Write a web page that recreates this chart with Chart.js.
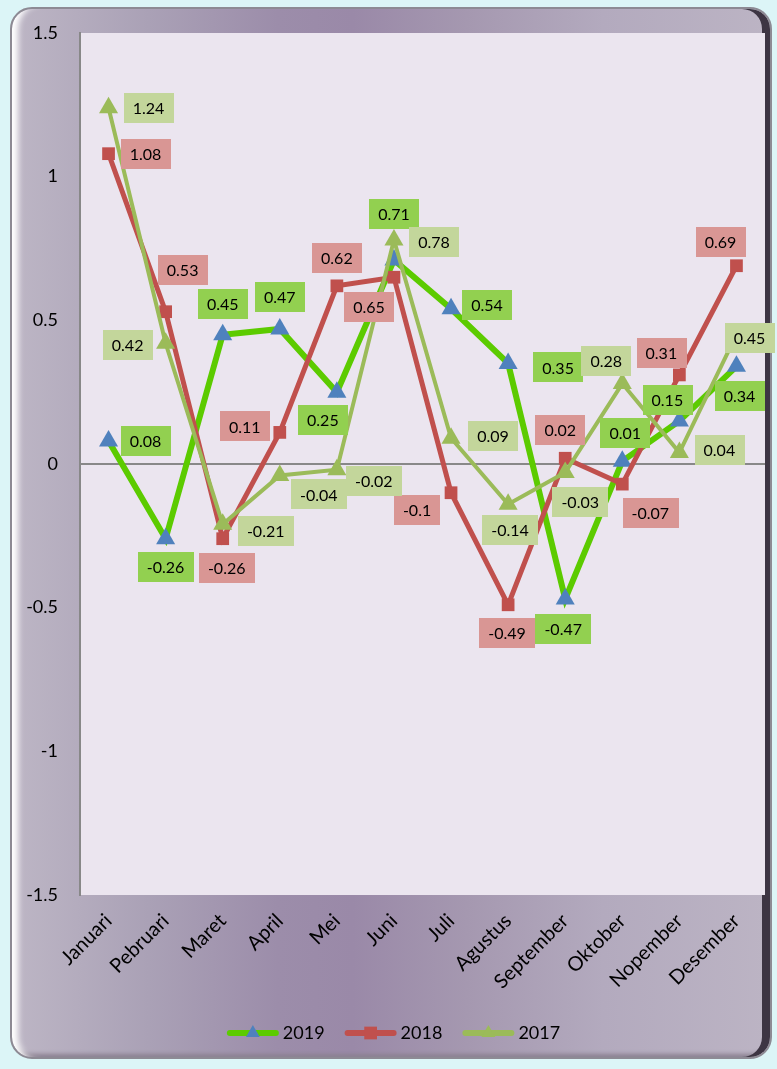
<!DOCTYPE html>
<html>
<head>
<meta charset="utf-8">
<script src="https://cdn.jsdelivr.net/npm/chart.js@4.4.1/dist/chart.umd.min.js"></script>
<style>
  html, body { margin: 0; padding: 0; }
  body { width: 777px; height: 1069px; background: #dcf5f7; position: relative; overflow: hidden; }
  .frame {
    position: absolute; left: 10px; top: 7px; width: 758px; height: 1048px;
    border: 2px solid #8d8a94; border-radius: 22px;
    background: linear-gradient(90deg, #bdb6c5 0%, #aaa1b6 18%, #9c8daa 35%, #9a89a8 45%, #a598b0 60%, #b3aabe 78%, #bcb4c4 100%);
    box-shadow: inset 12px 0 6px -6px #ffffff, inset -8px 0 0 #3d3543, inset 0 -6px 4px -3px #8a8090;
  }
  #wrap { position: absolute; left: 0; top: 0; width: 777px; height: 1069px; }
</style>
</head>
<body>
<div class="frame"></div>
<div id="wrap"><canvas id="chart" width="777" height="1069"></canvas></div>
<script>
const THEME = {
    plotBg: '#ebe5ef',
    axis: '#888888',
    text: '#000000',
    fontFamily: "Lato, 'Open Sans', sans-serif",
};

const months = ['Januari', 'Pebruari', 'Maret', 'April', 'Mei', 'Juni',
    'Juli', 'Agustus', 'September', 'Oktober', 'Nopember', 'Desember'];

const y2019 = [0.08, -0.26, 0.45, 0.47, 0.25, 0.71, 0.54, 0.35, -0.47, 0.01, 0.15, 0.34];
const y2018 = [1.08, 0.53, -0.26, 0.11, 0.62, 0.65, -0.1, -0.49, 0.02, -0.07, 0.31, 0.69];
const y2017 = [1.24, 0.42, -0.21, -0.04, -0.02, 0.78, 0.09, -0.14, -0.03, 0.28, 0.04, 0.45];

const yTicks = [-1.5, -1, -0.5, 0, 0.5, 1, 1.5];

// where each data label sits relative to its point (px)
const off2019 = [[37, 0], [0, 28], [0, -31], [0, -32], [-14, 28], [0, -46],
    [36, -4], [50, 4], [-2, 30], [3, -28], [-12, -21], [3, 30]];
const off2018 = [[37, 0], [17, -42], [4, 29], [-35, -6], [0, -28], [-25, 30],
    [-34, 17], [-1, 28], [-5, -28], [28, 29], [-18, -22], [-16, -24]];
const off2017 = [[40, 0], [-38, 2], [43, 7], [39, 19], [37, 11], [40, 2],
    [42, -2], [2, 26], [15, 29], [-16, -23], [40, -3], [13, 3]];

const plotBgPlugin = {
    id: 'plotBg',
    beforeDraw(chart) {
        const { ctx, chartArea: a } = chart;
        ctx.save();
        ctx.fillStyle = THEME.plotBg;
        ctx.fillRect(a.left, a.top, a.right - a.left, a.bottom - a.top);
        ctx.restore();
    },
};

const dataLabelPlugin = {
    id: 'boxLabels',
    afterDatasetsDraw(chart) {
        const ctx = chart.ctx;
        ctx.save();
        ctx.font = '16px ' + THEME.fontFamily;
        ctx.textAlign = 'center';
        ctx.textBaseline = 'middle';
        // draw in the same stacking as the lines: 2019 first, 2017 last
        [0, 1, 2].forEach(di => {
            const ds = chart.data.datasets[di];
            const meta = chart.getDatasetMeta(di);
            meta.data.forEach((pt, i) => {
                const txt = String(ds.data[i]);
                const [dx, dy] = ds.labelOffsets[i];
                const cx = pt.x + dx, cy = pt.y + dy;
                const w = ctx.measureText(txt).width + 18;
                const h = 30;
                ctx.fillStyle = ds.labelBox;
                ctx.fillRect(Math.round(cx - w / 2), Math.round(cy - h / 2), Math.round(w), h);
                ctx.fillStyle = THEME.text;
                ctx.fillText(txt, cx, cy + 1);
            });
        });
        ctx.restore();
    },
};

const legendPlugin = {
    id: 'lineLegend',
    afterDraw(chart) {
        const ctx = chart.ctx;
        ctx.save();
        ctx.font = '18px ' + THEME.fontFamily;
        ctx.textBaseline = 'middle';
        const y = 1033;
        const lineW = 52, gap = 4, between = 20;
        const items = chart.data.datasets.map(ds => ({ ds, tw: ctx.measureText(ds.label).width }));
        const total = items.reduce((s, it) => s + lineW + gap + it.tw, 0) + between * (items.length - 1);
        let x = chart.width / 2 + 5 - total / 2;
        items.forEach(({ ds, tw }) => {
            ctx.strokeStyle = ds.borderColor;
            ctx.lineWidth = 6;
            ctx.lineCap = 'round';
            ctx.beginPath();
            ctx.moveTo(x + 3, y);
            ctx.lineTo(x + lineW - 3, y);
            ctx.stroke();
            ctx.fillStyle = ds.pointBackgroundColor;
            ctx.strokeStyle = ds.pointBackgroundColor;
            Chart.helpers.drawPoint(ctx, {
                pointStyle: ds.pointStyle,
                radius: ds.pointStyle === 'rect' ? 9 : 8,
                borderWidth: 0,
                rotation: 0,
            }, x + lineW / 2, y);
            ctx.fillStyle = THEME.text;
            ctx.textAlign = 'left';
            ctx.fillText(ds.label, x + lineW + gap, y);
            x += lineW + gap + tw + between;
        });
        ctx.restore();
    },
};

new Chart(document.getElementById('chart'), {
    type: 'line',
    data: {
        labels: months,
        datasets: [
            {
                label: '2019',
                data: y2019,
                borderColor: '#5ccb00',
                borderWidth: 6,
                pointStyle: 'triangle',
                pointRadius: 11,
                pointBackgroundColor: '#4f81bd',
                pointBorderColor: '#4f81bd',
                pointBorderWidth: 0,
                labelBox: '#92d050',
                labelOffsets: off2019,
                order: 3,
            },
            {
                label: '2018',
                data: y2018,
                borderColor: '#c0504d',
                borderWidth: 5,
                pointStyle: 'rect',
                pointRadius: 9,
                pointBackgroundColor: '#c0504d',
                pointBorderColor: '#c0504d',
                pointBorderWidth: 0,
                labelBox: '#d99694',
                labelOffsets: off2018,
                order: 2,
            },
            {
                label: '2017',
                data: y2017,
                borderColor: '#9bbb59',
                borderWidth: 4,
                pointStyle: 'triangle',
                pointRadius: 11,
                pointBackgroundColor: '#9bbb59',
                pointBorderColor: '#9bbb59',
                pointBorderWidth: 0,
                labelBox: '#c3d69b',
                labelOffsets: off2017,
                order: 1,
            },
        ],
    },
    options: {
        responsive: false,
        animation: false,
        layout: { padding: { left: 10, right: 12, top: 33, bottom: 0 } },
        elements: { line: { tension: 0, fill: false } },
        scales: {
            x: {
                offset: true,
                grid: { display: false, drawTicks: false },
                border: { display: false },
                ticks: {
                    color: THEME.text,
                    font: { family: THEME.fontFamily, size: 20 },
                    minRotation: 45,
                    maxRotation: 45,
                    autoSkip: false,
                    padding: 14,
                },
                afterFit: (scale) => { scale.height = 174; },
            },
            y: {
                min: -1.5,
                max: 1.5,
                afterBuildTicks: (scale) => { scale.ticks = yTicks.map(v => ({ value: v })); },
                grid: {
                    drawTicks: false,
                    color: (c) => c.tick && c.tick.value === 0 ? THEME.axis : 'rgba(0,0,0,0)',
                    lineWidth: 2,
                },
                border: { display: true, color: THEME.axis, width: 2 },
                ticks: {
                    color: THEME.text,
                    font: { family: THEME.fontFamily, size: 18 },
                    padding: 22,
                    callback: (v) => String(v),
                },
                afterFit: (scale) => { scale.width = 70; },
            },
        },
        plugins: {
            legend: { display: false },
            tooltip: { enabled: false },
        },
    },
    plugins: [plotBgPlugin, dataLabelPlugin, legendPlugin],
});
</script>
</body>
</html>
